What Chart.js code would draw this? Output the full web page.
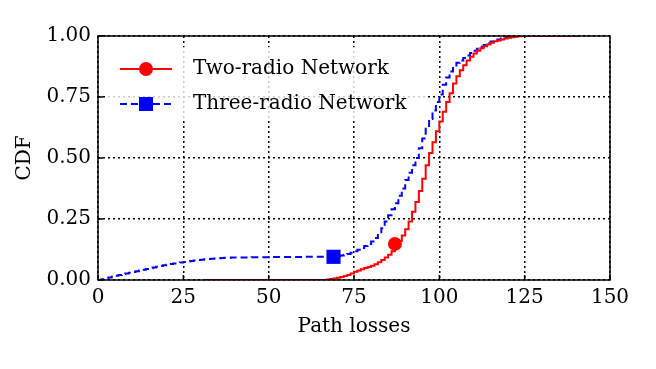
<!DOCTYPE html>
<html>
<head>
<meta charset="utf-8">
<script src="https://cdn.jsdelivr.net/npm/chart.js@4.4.1/dist/chart.umd.min.js"></script>
<style>
  body { margin: 0; background: #fff; }
  canvas { display: block; }
</style>
</head>
<body>
<canvas id="graphe" width="656" height="369"></canvas>
<script>
// valeurs
var xTicks = [0, 25, 50, 75, 100, 125, 150];
var yTicks = [0, 0.25, 0.5, 0.75, 1];

var xDeux = [31, 66, 67, 68, 69, 70, 71, 72, 73, 74, 75, 76, 77, 78, 79, 80, 81, 82, 83, 84, 85, 86, 87, 88, 89, 90,
    91, 92, 93, 94, 95, 96, 97, 98, 99, 100, 101, 102, 103, 104, 105, 106, 107, 108, 109, 110,
    111, 112, 113, 114, 115, 116, 117, 118, 119, 120, 121, 122, 123, 124, 141];
var yDeux = [0, 0, 0.002, 0.004, 0.006, 0.009, 0.012, 0.016, 0.021, 0.027, 0.034, 0.039, 0.044, 0.049, 0.053, 0.058,
    0.065, 0.073, 0.082, 0.092, 0.103, 0.118, 0.148, 0.160, 0.182, 0.208,
    0.240, 0.280, 0.320, 0.365, 0.415, 0.470, 0.520, 0.565, 0.610, 0.650, 0.690, 0.730, 0.765, 0.805, 0.835,
    0.860, 0.880, 0.900, 0.915, 0.928, 0.940, 0.950, 0.958, 0.965, 0.972, 0.978, 0.982, 0.986, 0.990, 0.993,
    0.995, 0.997, 0.999, 1, 1];

var xTrois = [0, 1, 2, 3, 4, 5, 6, 7, 8, 9, 10, 11, 12, 13, 14, 15, 16, 17, 18, 19, 20,
    21, 22, 23, 24, 25, 26, 27, 28, 29, 30, 31, 32, 33, 34, 35, 36, 37, 38, 39, 40, 45, 50, 55, 60, 65, 69,
    70, 71, 72, 73, 74, 75, 76, 77, 78, 79, 80, 81, 82, 83, 84, 85, 86, 87, 88, 89, 90,
    91, 92, 93, 94, 95, 96, 97, 98, 99, 100, 101, 102, 103, 104, 105, 106, 107, 108, 109, 110,
    111, 112, 113, 114, 115, 116, 117, 118, 119, 120, 121, 135];
var yTrois = [0, 0.003, 0.006, 0.010, 0.013, 0.017, 0.020, 0.024, 0.027, 0.030, 0.033, 0.036, 0.039, 0.042, 0.045,
    0.048, 0.051, 0.054, 0.057, 0.060, 0.063, 0.066, 0.068, 0.070, 0.072, 0.074, 0.076, 0.078, 0.080, 0.082,
    0.083, 0.085, 0.086, 0.087, 0.088, 0.089, 0.090, 0.091, 0.091, 0.092, 0.092, 0.093, 0.094, 0.094, 0.095,
    0.095, 0.095,
    0.097, 0.100, 0.103, 0.107, 0.112, 0.118, 0.124, 0.131, 0.139, 0.148, 0.158, 0.172, 0.190, 0.212, 0.240,
    0.265, 0.290, 0.315, 0.345, 0.375, 0.410,
    0.440, 0.470, 0.500, 0.540, 0.580, 0.620, 0.660, 0.695, 0.730, 0.760, 0.800, 0.830, 0.855, 0.875, 0.890,
    0.900, 0.910, 0.920, 0.930, 0.940,
    0.948, 0.956, 0.963, 0.970, 0.977, 0.982, 0.986, 0.990, 0.994, 0.997, 1, 1];

var marqueDeux = 87;
var marqueTrois = 69;

var police = "'DejaVu Serif', serif";

function points(xs, ys) {
    return xs.map((x, i) => ({ x: x, y: ys[i] }));
}
function rayons(xs, xm, r) {
    return xs.map(x => x === xm ? r : 0);
}

// cadre, petites graduations et légende dessinés à la main
var cadrePlugin = {
    id: "cadre",
    afterDatasetsDraw: function (chart) {
        var c = chart.ctx, a = chart.chartArea;
        var sx = chart.scales.x, sy = chart.scales.y;
        c.save();
        c.strokeStyle = "#000";
        c.lineWidth = 1.5;
        c.setLineDash([]);
        c.beginPath();
        xTicks.forEach(v => {
            var px = sx.getPixelForValue(v);
            c.moveTo(px, a.bottom); c.lineTo(px, a.bottom - 5);
        });
        yTicks.forEach(v => {
            var py = sy.getPixelForValue(v);
            c.moveTo(a.left, py); c.lineTo(a.left + 5, py);
        });
        c.stroke();
        c.strokeRect(a.left, a.top, a.right - a.left, a.bottom - a.top);

        // légende
        c.fillStyle = "rgba(255,255,255,0.8)";
        c.fillRect(108, 47, 320, 74);
        var items = [
            { txt: "Two-radio Network", col: "#ff0000", dash: [], y: 69, forme: "rond" },
            { txt: "Three-radio Network", col: "#0000ff", dash: [7, 4], y: 104, forme: "carre" }
        ];
        items.forEach(it => {
            c.strokeStyle = it.col;
            c.fillStyle = it.col;
            c.lineWidth = 2;
            c.setLineDash(it.dash);
            c.beginPath();
            c.moveTo(120, it.y); c.lineTo(172, it.y);
            c.stroke();
            c.setLineDash([]);
            if (it.forme === "rond") {
                c.beginPath(); c.arc(146, it.y, 7, 0, Math.PI * 2); c.fill();
            } else {
                c.fillRect(139, it.y - 7, 14, 14);
            }
            c.fillStyle = "#000";
            c.font = "20px " + police;
            c.textBaseline = "middle";
            c.fillText(it.txt, 193, it.y);
        });
        c.restore();
    }
};

var ctx = document.getElementById("graphe").getContext("2d");

var graphe = new Chart(ctx, {
    type: "line",
    data: {
        datasets: [
            {
                label: "Two-radio Network",
                data: points(xDeux, yDeux),
                borderColor: "#ff0000",
                backgroundColor: "#ff0000",
                borderWidth: 2,
                stepped: "before",
                pointStyle: "circle",
                pointRadius: rayons(xDeux, marqueDeux, 7),
                pointBorderWidth: 0,
                fill: false
            },
            {
                label: "Three-radio Network",
                data: points(xTrois, yTrois),
                borderColor: "#0000ff",
                backgroundColor: "#0000ff",
                borderWidth: 2,
                borderDash: [7, 4],
                stepped: "before",
                pointStyle: "rect",
                pointRadius: rayons(xTrois, marqueTrois, 10),
                pointBorderWidth: 0,
                fill: false
            }
        ]
    },
    options: {
        responsive: false,
        animation: false,
        layout: { padding: { top: 36, right: 46, bottom: 0, left: 0 } },
        plugins: { legend: { display: false }, tooltip: { enabled: false } },
        scales: {
            x: {
                type: "linear",
                min: 0,
                max: 150,
                afterFit: function (s) { s.height = 89; },
                afterBuildTicks: function (s) { s.ticks = xTicks.map(v => ({ value: v })); },
                ticks: { color: "#000", font: { family: police, size: 20 }, padding: 6, maxRotation: 0 },
                grid: { color: "#000", lineWidth: 1.5, drawTicks: false },
                border: { display: false, dash: [2, 3] },
                title: { display: true, text: "Path losses", color: "#000", font: { family: police, size: 20 }, padding: { top: 0, bottom: 30 } }
            },
            y: {
                min: 0,
                max: 1,
                afterFit: function (s) { s.width = 98; },
                afterBuildTicks: function (s) { s.ticks = yTicks.map(v => ({ value: v })); },
                ticks: { color: "#000", font: { family: police, size: 20 }, padding: 7, callback: v => v.toFixed(2) },
                grid: { color: "#000", lineWidth: 1.5, drawTicks: false },
                border: { display: false, dash: [2, 3] },
                title: { display: true, text: "CDF", color: "#000", font: { family: police, size: 20 }, padding: { top: 13, bottom: 0 } }
            }
        }
    },
    plugins: [cadrePlugin]
});
</script>
</body>
</html>
